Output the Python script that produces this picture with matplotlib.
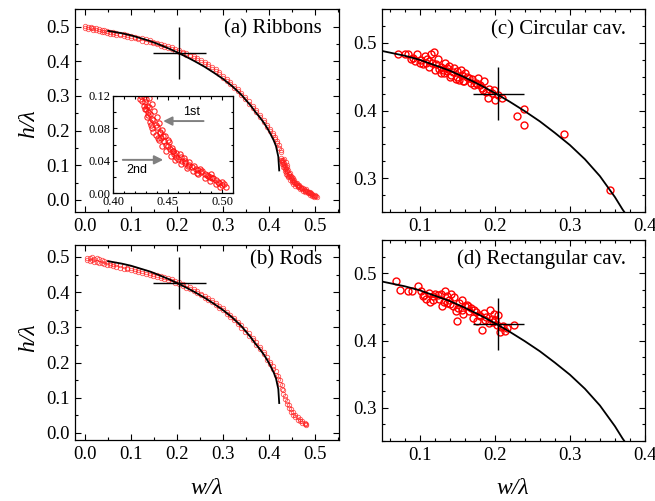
import matplotlib
matplotlib.use('Agg')
import matplotlib.pyplot as plt
from matplotlib.ticker import MultipleLocator, FormatStrFormatter

plt.rcParams['font.family'] = ['Liberation Serif', 'DejaVu Serif']

# ---- data ----
# theory curve (same in all panels)
curve_w = [0.05, 0.08, 0.10, 0.12, 0.14, 0.16, 0.18, 0.20, 0.22, 0.24, 0.26, 0.28,
           0.30, 0.32, 0.34, 0.36, 0.37, 0.38, 0.39, 0.40, 0.41, 0.415, 0.42, 0.422]
curve_h = [0.488, 0.481, 0.475, 0.467, 0.459, 0.449, 0.438, 0.426, 0.413, 0.399, 0.384, 0.367,
           0.349, 0.328, 0.303, 0.272, 0.254, 0.238, 0.220, 0.198, 0.172, 0.155, 0.125, 0.085]

# (a) ribbons
ribbons_w = [0.000, 0.006, 0.012, 0.018, 0.024, 0.030, 0.036, 0.042, 0.048, 0.054, 0.060,
             0.068, 0.076, 0.084, 0.092, 0.100, 0.108, 0.116, 0.124, 0.132, 0.140, 0.148,
             0.156, 0.164, 0.172, 0.180, 0.188, 0.196, 0.204, 0.212, 0.220, 0.228, 0.236,
             0.244, 0.252, 0.260, 0.268, 0.276, 0.284, 0.292, 0.300, 0.308, 0.316, 0.324,
             0.332, 0.340, 0.348, 0.356, 0.364, 0.372, 0.380, 0.388, 0.396,
             0.402, 0.408, 0.413, 0.418, 0.422, 0.425]
ribbons_h_up = [0.502, 0.499, 0.500, 0.496, 0.497, 0.493, 0.491, 0.489, 0.487, 0.486, 0.484,
                0.482, 0.480, 0.478, 0.475, 0.473, 0.471, 0.468, 0.466, 0.463, 0.461, 0.457,
                0.454, 0.451, 0.447, 0.444, 0.440, 0.436, 0.432, 0.428, 0.424, 0.419, 0.415,
                0.410, 0.404, 0.398, 0.392, 0.385, 0.377, 0.368, 0.359, 0.350, 0.340, 0.330,
                0.319, 0.308, 0.296, 0.284, 0.272, 0.259, 0.246, 0.232, 0.217,
                0.205, 0.193, 0.182, 0.170, 0.158, 0.145]
ribbons_h_lo = [0.497, 0.494, 0.495, 0.491, 0.490, 0.488, 0.485, 0.484, 0.482, 0.480, 0.479,
                0.477, 0.475, 0.472, 0.470, 0.468, 0.466, 0.463, 0.460, 0.457, 0.455, 0.452,
                0.449, 0.445, 0.442, 0.438, 0.435, 0.431, 0.427, 0.423, 0.419, 0.414, 0.410,
                0.404, 0.399, 0.392, 0.386, 0.379, 0.372, 0.363, 0.353, 0.344, 0.334, 0.324,
                0.313, 0.302, 0.290, 0.278, 0.266, 0.253, 0.240, 0.226, 0.210,
                0.198, 0.186, 0.175, 0.163, 0.150, 0.137]
ribbons_tail_w = [0.426, 0.433, 0.429, 0.436, 0.430, 0.438, 0.432, 0.440, 0.434, 0.442,
                  0.436, 0.445, 0.439, 0.448, 0.442, 0.451, 0.445, 0.454, 0.449, 0.458,
                  0.453, 0.462, 0.457, 0.466, 0.462, 0.470, 0.468, 0.476, 0.473, 0.481,
                  0.478, 0.486, 0.484, 0.491, 0.489, 0.496, 0.494, 0.500, 0.498, 0.504,
                  0.430, 0.433, 0.436, 0.440, 0.443, 0.447, 0.452, 0.456, 0.460, 0.466,
                  0.472, 0.478, 0.484, 0.489, 0.494, 0.500, 0.428, 0.432, 0.435, 0.441,
                  0.427, 0.431, 0.434, 0.437, 0.439, 0.443, 0.446, 0.449, 0.450, 0.455,
                  0.458, 0.463, 0.465, 0.469, 0.474, 0.477, 0.482, 0.487, 0.492, 0.497,
                  0.502, 0.425, 0.429, 0.431, 0.437, 0.444, 0.450, 0.455, 0.461, 0.470,
                  0.480, 0.490]
ribbons_tail_h = [0.120, 0.118, 0.112, 0.110, 0.104, 0.102, 0.096, 0.094, 0.088, 0.086,
                  0.080, 0.078, 0.072, 0.070, 0.065, 0.063, 0.058, 0.056, 0.052, 0.050,
                  0.046, 0.044, 0.041, 0.039, 0.036, 0.035, 0.031, 0.030, 0.027, 0.026,
                  0.023, 0.022, 0.019, 0.018, 0.015, 0.014, 0.011, 0.010, 0.008, 0.007,
                  0.116, 0.106, 0.092, 0.082, 0.074, 0.064, 0.054, 0.048, 0.042, 0.037,
                  0.032, 0.028, 0.024, 0.020, 0.016, 0.013, 0.108, 0.100, 0.084, 0.068,
                  0.114, 0.108, 0.098, 0.090, 0.084, 0.076, 0.070, 0.060, 0.066, 0.052,
                  0.045, 0.040, 0.043, 0.033, 0.034, 0.025, 0.027, 0.021, 0.019, 0.012,
                  0.011, 0.116, 0.104, 0.094, 0.076, 0.068, 0.058, 0.052, 0.048, 0.038,
                  0.030, 0.023]

# (b) rods
rods_w = [0.005, 0.010, 0.015, 0.020, 0.025, 0.030, 0.036, 0.042, 0.048, 0.054, 0.060,
          0.068, 0.076, 0.084, 0.092, 0.100, 0.108, 0.116, 0.124, 0.132, 0.140, 0.148,
          0.156, 0.164, 0.172, 0.180, 0.188, 0.196, 0.204, 0.212, 0.220, 0.228, 0.236,
          0.244, 0.252, 0.260, 0.268, 0.276, 0.284, 0.292, 0.300, 0.308, 0.316, 0.324,
          0.332, 0.340, 0.348, 0.356, 0.364, 0.372, 0.380, 0.388, 0.396,
          0.402, 0.408, 0.414, 0.419, 0.423, 0.427, 0.431, 0.435, 0.439, 0.443, 0.447,
          0.452, 0.457, 0.462, 0.467, 0.472, 0.477, 0.481]
rods_h_up = [0.498, 0.496, 0.499, 0.495, 0.497, 0.493, 0.490, 0.488, 0.486, 0.484, 0.481,
             0.479, 0.476, 0.473, 0.470, 0.468, 0.465, 0.462, 0.459, 0.457, 0.454, 0.451,
             0.448, 0.446, 0.443, 0.440, 0.436, 0.432, 0.428, 0.424, 0.419, 0.414, 0.408,
             0.402, 0.396, 0.390, 0.383, 0.377, 0.369, 0.361, 0.354, 0.345, 0.336, 0.326,
             0.316, 0.306, 0.294, 0.283, 0.271, 0.258, 0.245, 0.231, 0.216,
             0.203, 0.190, 0.176, 0.162, 0.150, 0.136, 0.122, 0.106, 0.092, 0.079, 0.068,
             0.059, 0.051, 0.045, 0.039, 0.034, 0.029, 0.026]
rods_h_lo = [0.492, 0.489, 0.490, 0.487, 0.486, 0.484, 0.482, 0.480, 0.478, 0.477, 0.475,
             0.472, 0.470, 0.467, 0.465, 0.462, 0.460, 0.457, 0.454, 0.451, 0.448, 0.446,
             0.443, 0.440, 0.437, 0.434, 0.431, 0.427, 0.423, 0.418, 0.413, 0.408, 0.403,
             0.397, 0.391, 0.384, 0.378, 0.371, 0.364, 0.356, 0.348, 0.339, 0.330, 0.320,
             0.310, 0.299, 0.288, 0.276, 0.264, 0.251, 0.238, 0.224, 0.208,
             0.195, 0.181, 0.166, 0.152, 0.140, 0.126, 0.112, 0.097, 0.083, 0.070, 0.060,
             0.051, 0.044, 0.038, 0.033, 0.029, 0.025, 0.023]

# (c) circular cavities
circ_w = [0.0715, 0.080, 0.084, 0.091, 0.097, 0.094, 0.102, 0.107, 0.104, 0.113,
          0.115, 0.119, 0.113, 0.120, 0.124, 0.122, 0.1285, 0.1285, 0.134, 0.137,
          0.1395, 0.142, 0.146, 0.150, 0.150, 0.155, 0.157, 0.159, 0.161, 0.166,
          0.170, 0.1745, 0.178, 0.181, 0.186, 0.183, 0.192, 0.191, 0.199, 0.200,
          0.2097, 0.229, 0.239, 0.239, 0.292, 0.353,
          0.088, 0.100, 0.110, 0.117, 0.126, 0.131, 0.136, 0.144, 0.148, 0.153, 0.163,
          0.168, 0.176, 0.188, 0.196, 0.205, 0.109, 0.133, 0.141, 0.158, 0.172, 0.184]
circ_h = [0.483, 0.484, 0.483, 0.478, 0.483, 0.473, 0.475, 0.481, 0.468, 0.473,
          0.483, 0.486, 0.465, 0.460, 0.476, 0.468, 0.465, 0.456, 0.470, 0.458,
          0.466, 0.453, 0.463, 0.458, 0.450, 0.460, 0.452, 0.443, 0.456, 0.448,
          0.446, 0.441, 0.448, 0.438, 0.443, 0.433, 0.432, 0.418, 0.431, 0.415,
          0.419, 0.392, 0.402, 0.378, 0.366, 0.283,
          0.476, 0.470, 0.476, 0.470, 0.461, 0.460, 0.463, 0.457, 0.447, 0.445, 0.450,
          0.441, 0.439, 0.428, 0.426, 0.423, 0.470, 0.455, 0.449, 0.443, 0.437, 0.430]

# (d) rectangular cavities
rect_w = [0.068, 0.0737, 0.0846, 0.098, 0.102, 0.1044, 0.109, 0.113, 0.1145, 0.1175,
          0.124, 0.126, 0.128, 0.130, 0.134, 0.136, 0.137, 0.139, 0.142, 0.144,
          0.146, 0.148, 0.150, 0.153, 0.156, 0.157, 0.160, 0.1636, 0.166, 0.168,
          0.1715, 0.173, 0.1767, 0.179, 0.183, 0.1855, 0.189, 0.192, 0.194, 0.1965,
          0.1996, 0.203, 0.204, 0.2075, 0.211, 0.214, 0.226,
          0.090, 0.106, 0.118, 0.121, 0.132, 0.141, 0.151, 0.158, 0.165, 0.175,
          0.181, 0.187, 0.198, 0.201, 0.208, 0.216]
rect_h = [0.4885, 0.476, 0.4745, 0.482, 0.4735, 0.466, 0.462, 0.471, 0.457, 0.466,
          0.4685, 0.4625, 0.470, 0.451, 0.4735, 0.466, 0.456, 0.461, 0.470, 0.451,
          0.4645, 0.4435, 0.4285, 0.456, 0.461, 0.446, 0.451, 0.4535, 0.4435, 0.4485,
          0.4335, 0.446, 0.4285, 0.4385, 0.415, 0.441, 0.4345, 0.426, 0.446, 0.4325,
          0.4395, 0.4235, 0.4385, 0.4125, 0.421, 0.4135, 0.4225,
          0.474, 0.468, 0.460, 0.470, 0.458, 0.455, 0.449, 0.440, 0.452, 0.442,
          0.436, 0.430, 0.428, 0.431, 0.420, 0.418]

# cross (optimum with spread)
cross_w, cross_h = 0.205, 0.425

W, H = 655, 501
fig = plt.figure(figsize=(W / 100, H / 100), dpi=100)


def box(x0, y0, x1, y1):
    # pixel box -> figure fraction
    return [x0 / W, 1 - y1 / H, (x1 - x0) / W, (y1 - y0) / H]


def style(ax, xmaj, xmin, ymaj, ymin, fmt='%.1f', size=13.5, ml=4.5, mn=2.5):
    ax.xaxis.set_major_locator(MultipleLocator(xmaj))
    ax.xaxis.set_minor_locator(MultipleLocator(xmin))
    ax.yaxis.set_major_locator(MultipleLocator(ymaj))
    ax.yaxis.set_minor_locator(MultipleLocator(ymin))
    ax.xaxis.set_major_formatter(FormatStrFormatter(fmt))
    ax.yaxis.set_major_formatter(FormatStrFormatter(fmt))
    ax.tick_params(which='both', direction='in', top=True, right=True, width=0.8)
    ax.tick_params(which='major', length=ml, labelsize=size, pad=4)
    ax.tick_params(which='minor', length=mn)
    for s in ax.spines.values():
        s.set_linewidth(0.9)


red_small = dict(ls='none', marker='o', ms=3.2, mfc='none', mec='#ff2020', mew=0.6, alpha=0.75)
red_inset = dict(ls='none', marker='o', ms=3.8, mfc='none', mec='#ff1010', mew=0.8, alpha=0.9)
red_big = dict(ls='none', marker='o', ms=5, mfc='none', mec='#ff0000', mew=1.0)

# (a)
axa = fig.add_axes(box(75, 9, 339, 212))
axa.plot(ribbons_w, ribbons_h_up, **red_small)
axa.plot(ribbons_w, ribbons_h_lo, **red_small)
axa.plot(ribbons_tail_w, ribbons_tail_h, **red_small)
axa.plot(curve_w, curve_h, color='k', lw=1.3)
axa.errorbar(cross_w, cross_h, xerr=0.057, yerr=0.075, fmt='none', ecolor='k', elinewidth=1.0, capsize=0)
axa.set_xlim(-0.022, 0.552)
axa.set_ylim(-0.035, 0.551)
style(axa, 0.1, 0.05, 0.1, 0.05)
axa.text(0.936, 0.95, '(a) Ribbons', transform=axa.transAxes, ha='right', va='top', fontsize=15)

# inset
axi = fig.add_axes(box(113, 96, 233, 193))
axi.plot(ribbons_w, ribbons_h_up, **red_inset)
axi.plot(ribbons_w, ribbons_h_lo, **red_inset)
axi.plot(ribbons_tail_w, ribbons_tail_h, **red_inset)
axi.set_xlim(0.40, 0.51)
axi.set_ylim(0.0, 0.12)
style(axi, 0.05, 0.01, 0.04, 0.02, fmt='%.2f', size=9, ml=3, mn=1.8)
axi.tick_params(which='major', pad=2)
axi.set_xticks([0.40, 0.45, 0.50])
arrow = dict(arrowstyle='-|>', color='#808080', lw=1.4, mutation_scale=13, shrinkA=0, shrinkB=0)
axi.annotate('', xy=(0.446, 0.089), xytext=(0.483, 0.089), arrowprops=arrow)
axi.annotate('', xy=(0.446, 0.041), xytext=(0.409, 0.041), arrowprops=arrow)
axi.text(0.472, 0.100, '1st', ha='center', va='center', fontsize=9, family=['Liberation Sans'])
axi.text(0.4216, 0.029, '2nd', ha='center', va='center', fontsize=9, family=['Liberation Sans'])

# (b)
axb = fig.add_axes(box(75, 245, 339, 440))
axb.plot(rods_w, rods_h_up, **red_small)
axb.plot(rods_w, rods_h_lo, **red_small)
axb.plot(curve_w, curve_h, color='k', lw=1.3)
axb.errorbar(cross_w, cross_h, xerr=0.057, yerr=0.074, fmt='none', ecolor='k', elinewidth=1.0, capsize=0)
axb.set_xlim(-0.022, 0.552)
axb.set_ylim(-0.02, 0.534)
style(axb, 0.1, 0.05, 0.1, 0.05)
axb.text(0.936, 0.975, '(b) Rods', transform=axb.transAxes, ha='right', va='top', fontsize=15)

# (c)
axc = fig.add_axes(box(382, 9, 645, 212))
axc.plot(circ_w, circ_h, **red_big)
axc.plot(curve_w, curve_h, color='k', lw=1.3)
axc.errorbar(cross_w, cross_h, xerr=0.034, yerr=0.039, fmt='none', ecolor='k', elinewidth=1.0, capsize=0)
axc.set_xlim(0.05, 0.40)
axc.set_ylim(0.25, 0.55)
style(axc, 0.1, 0.02, 0.1, 0.025)
axc.text(0.928, 0.945, '(c) Circular cav.', transform=axc.transAxes, ha='right', va='top', fontsize=15)

# (d)
axd = fig.add_axes(box(382, 240, 645, 441))
axd.plot(rect_w, rect_h, **red_big)
axd.plot(curve_w, curve_h, color='k', lw=1.3)
axd.errorbar(cross_w, cross_h, xerr=0.034, yerr=0.039, fmt='none', ecolor='k', elinewidth=1.0, capsize=0)
axd.set_xlim(0.05, 0.40)
axd.set_ylim(0.25, 0.55)
style(axd, 0.1, 0.02, 0.1, 0.025)
axd.text(0.928, 0.955, '(d) Rectangular cav.', transform=axd.transAxes, ha='right', va='top', fontsize=15)

# axis labels
fig.text(29 / W, 1 - 124 / H, 'h/λ', rotation=90, ha='center', va='center', fontsize=17, style='italic')
fig.text(29 / W, 1 - 338 / H, 'h/λ', rotation=90, ha='center', va='center', fontsize=17, style='italic')
fig.text(207 / W, 1 - 489 / H, 'w/λ', ha='center', va='center', fontsize=17, style='italic')
fig.text(513 / W, 1 - 489 / H, 'w/λ', ha='center', va='center', fontsize=17, style='italic')

fig.savefig('out.png', dpi=100)
